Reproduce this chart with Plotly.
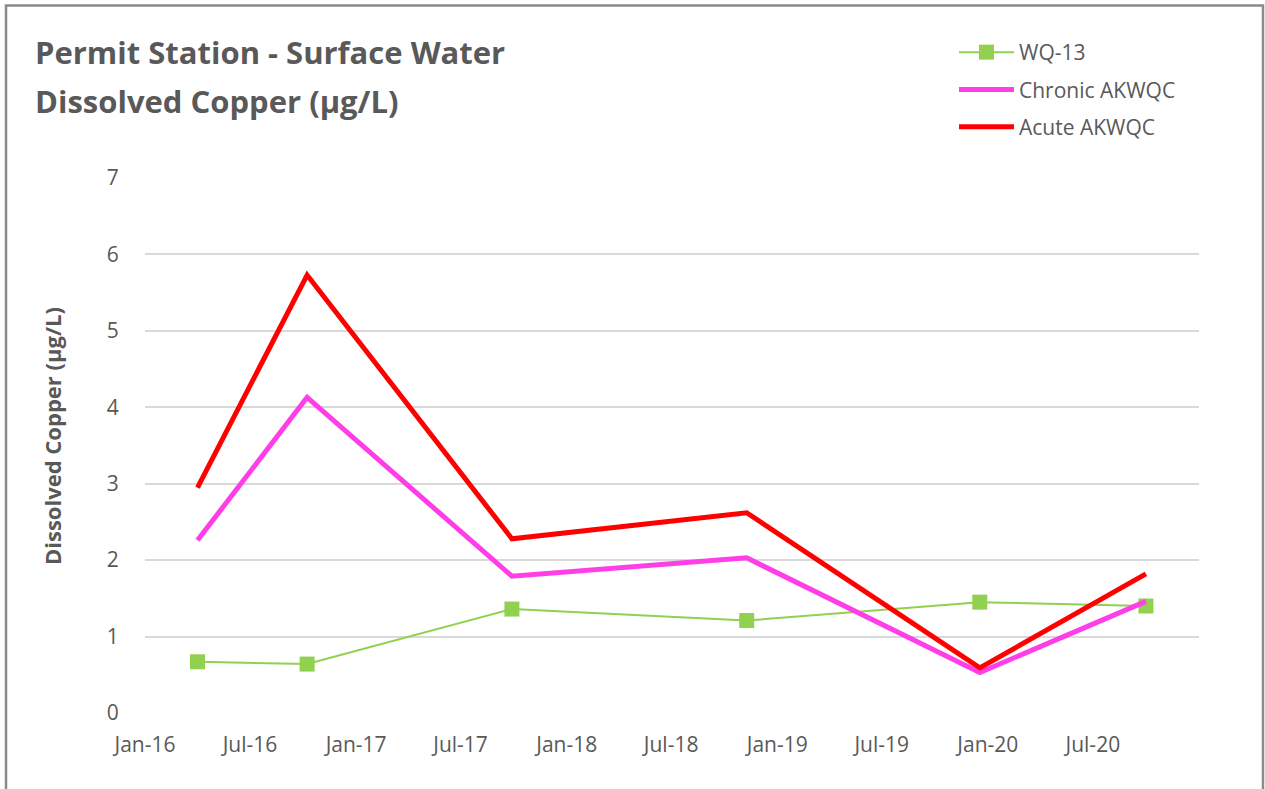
import plotly.graph_objects as go

# Sampling dates and dissolved copper values (µg/L)
sample_dates = ["2016-04-01", "2016-10-08", "2017-09-28", "2018-11-09", "2019-12-18", "2020-10-01"]
wq13 = [0.67, 0.64, 1.36, 1.21, 1.45, 1.40]
chronic_akwqc = [2.26, 4.13, 1.79, 2.03, 0.53, 1.46]
acute_akwqc = [2.95, 5.73, 2.28, 2.62, 0.59, 1.82]

x_tick_dates = ["2016-01-01", "2016-07-01", "2017-01-01", "2017-07-01", "2018-01-01",
                "2018-07-01", "2019-01-01", "2019-07-01", "2020-01-01", "2020-07-01"]
x_tick_labels = ["Jan-16", "Jul-16", "Jan-17", "Jul-17", "Jan-18",
                 "Jul-18", "Jan-19", "Jul-19", "Jan-20", "Jul-20"]
y_ticks = [0, 1, 2, 3, 4, 5, 6, 7]

FONT = "Open Sans"
TEXT_GRAY = "#595959"

W, H = 1265, 789
L, R, T, B = 145, 66, 178, 76
PW, PH = W - L - R, H - T - B


def px_x(p):
    return (p - L) / PW


def px_y(p):
    return (H - B - p) / PH


fig = go.Figure()
fig.add_trace(go.Scatter(
    x=sample_dates, y=wq13, name="WQ-13", mode="lines+markers",
    line=dict(color="#92d050", width=2),
    marker=dict(symbol="square", size=15, color="#92d050"),
    legendgroup="a",
))
fig.add_trace(go.Scatter(
    x=sample_dates, y=chronic_akwqc, name="Chronic AKWQC", mode="lines",
    line=dict(color="#ff3ee8", width=5),
    legendgroup="b",
))
fig.add_trace(go.Scatter(
    x=sample_dates, y=acute_akwqc, name="Acute AKWQC", mode="lines",
    line=dict(color="#ff0000", width=5),
    legendgroup="c",
))

fig.update_layout(
    width=W, height=H,
    margin=dict(l=L, r=R, t=T, b=B, autoexpand=False),
    paper_bgcolor="white", plot_bgcolor="white",
    font=dict(family=FONT, color=TEXT_GRAY, size=21),
    showlegend=True,
    legend=dict(
        x=px_x(954), y=px_y(32), xanchor="left", yanchor="top",
        font=dict(size=21, color=TEXT_GRAY, family=FONT),
        tracegroupgap=7, bgcolor="rgba(0,0,0,0)", itemwidth=55,
    ),
    xaxis=dict(
        type="date", range=["2016-01-01", "2021-01-01"],
        tickmode="array", tickvals=x_tick_dates, ticktext=x_tick_labels,
        showgrid=False, zeroline=False, showline=False,
        ticks="outside", ticklen=13, tickcolor="rgba(0,0,0,0)",
        tickfont=dict(size=21, color=TEXT_GRAY, family=FONT),
    ),
    yaxis=dict(
        range=[0, 7], tickmode="array", tickvals=y_ticks,
        showgrid=True, gridcolor="#d9d9d9", gridwidth=1.5,
        zeroline=False, showline=False,
        ticks="outside", ticklen=21, tickcolor="rgba(0,0,0,0)",
        tickfont=dict(size=21, color=TEXT_GRAY, family=FONT),
    ),
    annotations=[
        dict(text="<b>Permit Station - Surface Water</b>", xref="paper", yref="paper",
             x=px_x(33), y=px_y(29), xanchor="left", yanchor="top", showarrow=False,
             font=dict(size=31, color=TEXT_GRAY, family=FONT)),
        dict(text="<b>Dissolved Copper (µg/L)</b>", xref="paper", yref="paper",
             x=px_x(33), y=px_y(78), xanchor="left", yanchor="top", showarrow=False,
             font=dict(size=31, color=TEXT_GRAY, family=FONT)),
        dict(text="<b>Dissolved Copper (µg/L)</b>", xref="paper", yref="paper",
             x=px_x(52), y=px_y(436), xanchor="center", yanchor="middle",
             textangle=-90, showarrow=False,
             font=dict(size=22, color=TEXT_GRAY, family=FONT)),
    ],
    shapes=[
        dict(type="rect", xref="paper", yref="paper",
             x0=px_x(6), x1=px_x(1263), y0=px_y(810), y1=px_y(5.5),
             line=dict(color="#8a8a8a", width=2.5), fillcolor="rgba(0,0,0,0)",
             layer="below"),
    ],
)

fig.write_html("out.html")
